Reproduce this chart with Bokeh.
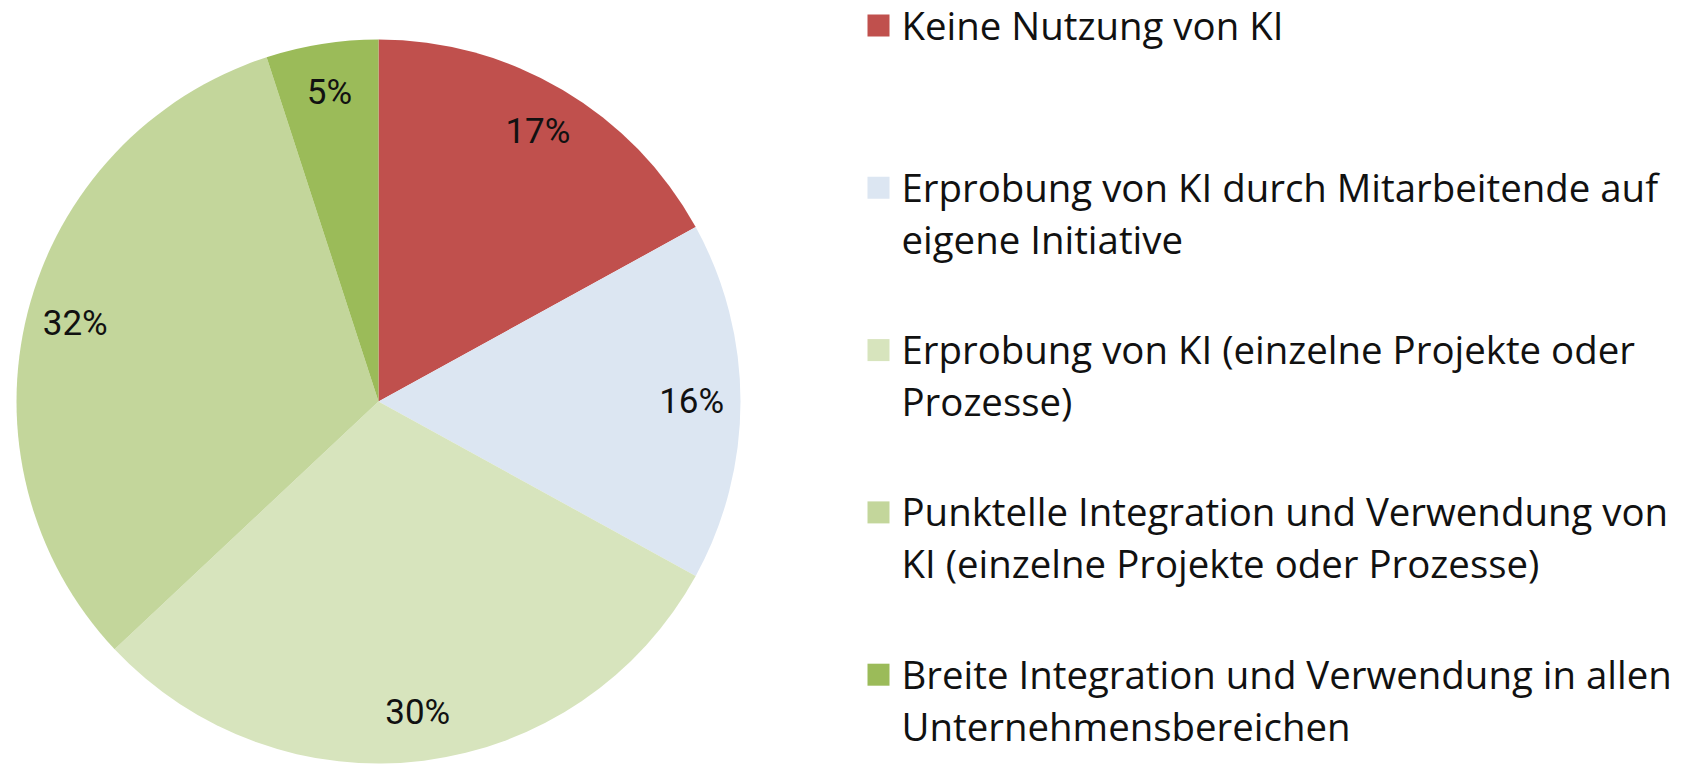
import math
from bokeh.plotting import figure
from bokeh.models import Range1d, ColumnDataSource
from bokeh.core.properties import value
from bokeh.embed import file_html
from bokeh.resources import INLINE

# ---- data ----
categories = [
    "Keine Nutzung von KI",
    "Erprobung von KI durch Mitarbeitende auf\neigene Initiative",
    "Erprobung von KI (einzelne Projekte oder\nProzesse)",
    "Punktelle Integration und Verwendung von\nKI (einzelne Projekte oder Prozesse)",
    "Breite Integration und Verwendung in allen\nUnternehmensbereichen",
]
shares = [17, 16, 30, 32, 5]
labels = ["17%", "16%", "30%", "32%", "5%"]
colors = ["#C0504D", "#DCE6F2", "#D7E4BD", "#C3D69B", "#9BBB59"]

W, H = 1686, 764
p = figure(width=W, height=H, output_backend="svg", toolbar_location=None,
           x_range=Range1d(0, W), y_range=Range1d(-H, 0),
           min_border=0, outline_line_color=None)
p.axis.visible = False
p.grid.visible = False
p.background_fill_color = "white"

cx, cy, R = 378, -401, 362
total = float(sum(shares))
starts, ends, lx, ly = [], [], [], []
cum = 0.0
for s in shares:
    a0 = math.pi / 2 - 2 * math.pi * cum / total
    a1 = math.pi / 2 - 2 * math.pi * (cum + s) / total
    starts.append(a0)
    ends.append(a1)
    mid = (a0 + a1) / 2
    lx.append(cx + 0.865 * R * math.cos(mid))
    ly.append(cy + 0.865 * R * math.sin(mid))
    cum += s

src = ColumnDataSource(dict(start=starts, end=ends, color=colors))
p.wedge(x=cx, y=cy, radius=R, start_angle="start", end_angle="end",
        direction="clock", fill_color="color", line_color=None, source=src)

p.text(x=lx, y=ly, text=labels, text_align="center", text_baseline="middle",
       text_font=value("Roboto"), text_font_size="35px", text_color="#111111")

# ---- legend ----
sq_x, txt_x = 878, 901
first_y, gap, line_h = -24, 162.3, 52
sqx, sqy, tx, ty, tt = [], [], [], [], []
for i, lab in enumerate(categories):
    y0 = first_y - i * gap
    sqx.append(sq_x)
    sqy.append(y0 - 1)
    for j, line in enumerate(lab.split("\n")):
        tx.append(txt_x)
        ty.append(y0 - j * line_h)
        tt.append(line)
p.rect(x=sqx, y=sqy, width=22, height=22, fill_color=colors, line_color=None)
p.text(x=tx, y=ty, text=tt, text_align="left", text_baseline="middle",
       text_font=value("Open Sans"), text_font_size="38.4px", text_color="#111111")

open("out.html", "w").write(file_html(p, INLINE))
